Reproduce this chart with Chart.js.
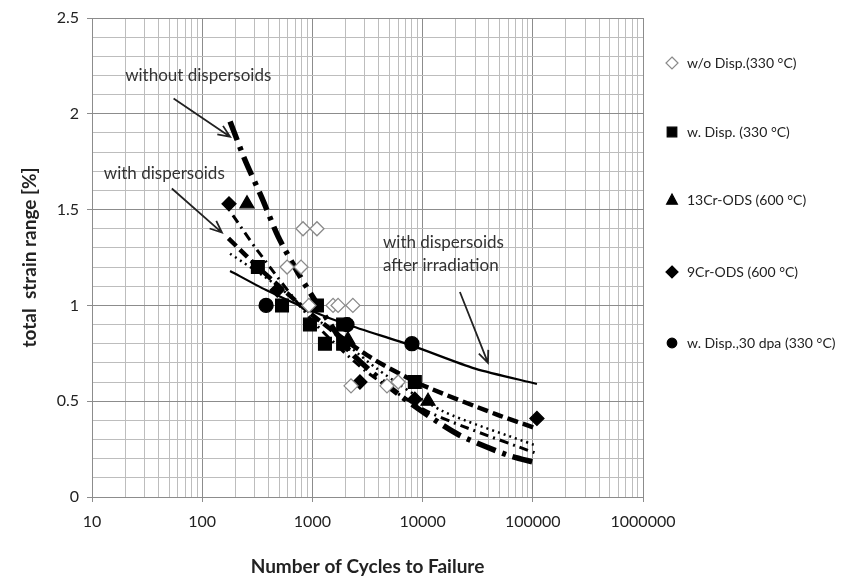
<!DOCTYPE html>
<html>
<head>
<meta charset="utf-8">
<script src="https://cdn.jsdelivr.net/npm/chart.js@4.4.1/dist/chart.umd.min.js"></script>
<style>
  html, body { margin: 0; padding: 0; background: #fff; }
  #wrap { width: 854px; height: 582px; }
</style>
</head>
<body>
<div id="wrap"><canvas id="fatigue" width="854" height="582"></canvas></div>
<script>
'use strict';

// measured points: cycles to failure / total strain range [%]
const woDispN = [822, 1100, 589, 788, 930, 1540, 1710, 2330, 2240, 4750, 6000];
const woDispS = [1.4, 1.4, 1.2, 1.2, 1.0, 1.0, 1.0, 1.0, 0.58, 0.58, 0.6];
const wDispN = [320, 530, 1100, 950, 1900, 1300, 1900, 8500];
const wDispS = [1.2, 1.0, 1.0, 0.9, 0.9, 0.8, 0.8, 0.6];
const cr13N = [255, 2100, 11200];
const cr13S = [1.53, 0.82, 0.5];
const cr9N = [175, 480, 2700, 8500, 109000];
const cr9S = [1.53, 1.08, 0.6, 0.51, 0.41];
const dpaN = [380, 2060, 8000];
const dpaS = [1.0, 0.9, 0.8];

// fit curves
const fitWoN = [179, 244, 349, 488, 740, 1100, 2190, 6240, 20500, 58300, 105000];
const fitWoS = [1.96, 1.76, 1.56, 1.36, 1.17, 1.01, 0.76, 0.53, 0.33, 0.22, 0.18];
const fitDashN = [173, 250, 320, 1000, 3130, 9460, 47300, 105000];
const fitDashS = [1.35, 1.26, 1.2, 0.95, 0.74, 0.59, 0.43, 0.36];
const fitDashDotN = [190, 314, 1000, 3000, 10000, 23000, 105000];
const fitDashDotS = [1.47, 1.29, 0.92, 0.66, 0.46, 0.37, 0.23];
const fitDotN = [179, 460, 1000, 3850, 15000, 105000];
const fitDotS = [1.27, 1.11, 0.95, 0.67, 0.45, 0.27];
const fitDpaN = [179, 380, 1000, 2060, 8000, 30000, 109000];
const fitDpaS = [1.18, 1.08, 0.97, 0.9, 0.79, 0.67, 0.59];

const seriesLabels = ['w/o Disp.(330 °C)', 'w. Disp. (330 °C)', '13Cr-ODS (600 °C)', '9Cr-ODS (600 °C)', 'w. Disp.,30 dpa (330 °C)'];
const xLabelValues = [10, 100, 1000, 10000, 100000, 1000000];
const yLabelValues = [0, 0.5, 1, 1.5, 2, 2.5];

// text notes with arrows (data coordinates)
const noteLines = [['without dispersoids'], ['with dispersoids'], ['with dispersoids', 'after irradiation']];
const noteAt = [[20, 2.2], [12.8, 1.69], [4370, 1.33]];
const arrowFrom = [[55, 2.08], [53, 1.61], [21800, 1.07]];
const arrowTo = [[179, 1.88], [151, 1.38], [39200, 0.70]];

const FONT = 'Lato, "Open Sans", sans-serif';

function pts(xs, ys) { return xs.map((x, i) => ({ x, y: ys[i] })); }

// grid values 1..9 x each decade
const xGrid = [];
for (let d = 10; d < 1000000; d *= 10) for (let k = 1; k < 10; k++) xGrid.push(k * d);
xGrid.push(1000000);

function isLabelX(v) { return xLabelValues.indexOf(v) >= 0; }
function isLabelY(v) { return yLabelValues.some(t => Math.abs(t - v) < 1e-6); }

function lineSet(xs, ys, width, dash) {
  return {
    data: pts(xs, ys), showLine: true, pointRadius: 0, borderColor: '#000',
    borderWidth: width, borderDash: dash, fill: false, order: 2, tension: 0.25,
  };
}

function pointSet(label, xs, ys, style, radius, fill, stroke) {
  return {
    label, data: pts(xs, ys), showLine: false, pointStyle: style, pointRadius: radius,
    backgroundColor: fill, borderColor: stroke, pointBorderWidth: 1.3, order: 1,
  };
}

const pointSets = [
  pointSet(seriesLabels[0], woDispN, woDispS, 'rectRot', 7, '#fff', '#8a8a8a'),
  pointSet(seriesLabels[1], wDispN, wDispS, 'rect', 9, '#000', '#000'),
  pointSet(seriesLabels[2], cr13N, cr13S, 'triangle', 8, '#000', '#000'),
  pointSet(seriesLabels[3], cr9N, cr9S, 'rectRot', 7, '#000', '#000'),
  pointSet(seriesLabels[4], dpaN, dpaS, 'circle', 7, '#000', '#000'),
];

function drawMarker(ctx, style, x, y, r, fill, stroke) {
  ctx.save();
  ctx.fillStyle = fill; ctx.strokeStyle = stroke; ctx.lineWidth = 1.2;
  ctx.beginPath();
  if (style === 'rectRot') {
    ctx.moveTo(x, y - r); ctx.lineTo(x + r, y); ctx.lineTo(x, y + r); ctx.lineTo(x - r, y); ctx.closePath();
  } else if (style === 'rect') {
    ctx.rect(x - r * 0.8, y - r * 0.8, r * 1.6, r * 1.6);
  } else if (style === 'triangle') {
    ctx.moveTo(x, y - r); ctx.lineTo(x + r * 0.9, y + r * 0.7); ctx.lineTo(x - r * 0.9, y + r * 0.7); ctx.closePath();
  } else {
    ctx.arc(x, y, r * 0.8, 0, Math.PI * 2);
  }
  ctx.fill(); ctx.stroke();
  ctx.restore();
}

const sideLegend = {
  id: 'sideLegend',
  afterDraw(chart) {
    const ctx = chart.ctx;
    const x0 = chart.chartArea.right + 29;
    const rows = [63, 132, 200, 272, 343];
    ctx.save();
    ctx.font = '14px ' + FONT;
    ctx.fillStyle = '#222';
    ctx.textBaseline = 'middle';
    pointSets.forEach((ds, i) => {
      drawMarker(ctx, ds.pointStyle, x0, rows[i], 6, ds.backgroundColor, ds.borderColor);
      ctx.fillText(ds.label, x0 + 15, rows[i]);
    });
    ctx.restore();
  },
};

const notes = {
  id: 'notes',
  afterDraw(chart) {
    const ctx = chart.ctx;
    const xs = chart.scales.x, ys = chart.scales.y;
    ctx.save();
    ctx.font = '17px ' + FONT;
    ctx.fillStyle = '#333';
    ctx.strokeStyle = '#222';
    ctx.lineWidth = 1.8;
    ctx.textBaseline = 'middle';
    noteLines.forEach((lines, i) => {
      const tx = xs.getPixelForValue(noteAt[i][0]);
      const ty = ys.getPixelForValue(noteAt[i][1]);
      lines.forEach((t, j) => ctx.fillText(t, tx, ty + j * 23));
      const ax = xs.getPixelForValue(arrowFrom[i][0]), ay = ys.getPixelForValue(arrowFrom[i][1]);
      const bx = xs.getPixelForValue(arrowTo[i][0]), by = ys.getPixelForValue(arrowTo[i][1]);
      const ang = Math.atan2(by - ay, bx - ax);
      ctx.beginPath();
      ctx.moveTo(ax, ay); ctx.lineTo(bx, by);
      ctx.moveTo(bx - 13 * Math.cos(ang - 0.4), by - 13 * Math.sin(ang - 0.4));
      ctx.lineTo(bx, by);
      ctx.lineTo(bx - 13 * Math.cos(ang + 0.4), by - 13 * Math.sin(ang + 0.4));
      ctx.stroke();
    });
    ctx.restore();
  },
};

new Chart(document.getElementById('fatigue'), {
  type: 'scatter',
  data: {
    datasets: [
      ...pointSets,
      lineSet(fitWoN, fitWoS, 5.5, [20, 7, 4, 7]),
      lineSet(fitDashN, fitDashS, 4.5, [11, 5]),
      lineSet(fitDashDotN, fitDashDotS, 3, [9, 5, 2, 5]),
      lineSet(fitDotN, fitDotS, 2.5, [2, 4]),
      lineSet(fitDpaN, fitDpaS, 2.2, []),
    ],
  },
  options: {
    responsive: false,
    animation: false,
    layout: { padding: { top: 18, right: 211, bottom: 0, left: 0 } },
    plugins: { legend: { display: false }, tooltip: { enabled: false } },
    scales: {
      x: {
        type: 'logarithmic', min: 10, max: 1000000,
        afterBuildTicks: s => { s.ticks = xGrid.map(v => ({ value: v })); },
        afterFit: s => { s.height = 85; },
        ticks: {
          autoSkip: false, maxRotation: 0, padding: 10, color: '#222',
          font: { family: FONT, size: 16 },
          callback: v => (isLabelX(v) ? String(v) : ''),
        },
        grid: {
          color: c => (c.tick && isLabelX(c.tick.value) ? '#8c8c8c' : '#bdbdbd'),
          tickColor: c => (c.tick && isLabelX(c.tick.value) ? '#8c8c8c' : 'rgba(0,0,0,0)'),
          tickLength: 5,
        },
        border: { color: '#8c8c8c' },
        title: {
          display: true, text: 'Number of Cycles to Failure', color: '#222',
          font: { family: FONT, size: 19, weight: 'bold' }, padding: { top: 0, bottom: 4 },
        },
      },
      y: {
        min: 0, max: 2.5,
        afterFit: s => { s.width = 92; },
        ticks: {
          stepSize: 0.1, autoSkip: false, padding: 8, color: '#222',
          font: { family: FONT, size: 16 },
          callback: v => (isLabelY(v) ? String(Math.round(v * 10) / 10) : ''),
        },
        grid: {
          color: c => (c.tick && isLabelY(c.tick.value) ? '#8c8c8c' : '#bdbdbd'),
          tickColor: c => (c.tick && isLabelY(c.tick.value) ? '#8c8c8c' : 'rgba(0,0,0,0)'),
          tickLength: 5,
        },
        border: { color: '#8c8c8c' },
        title: {
          display: true, text: 'total  strain range [%]', color: '#222',
          font: { family: FONT, size: 19, weight: 'bold' }, padding: { top: 18, bottom: 0 },
        },
      },
    },
  },
  plugins: [sideLegend, notes],
});
</script>
</body>
</html>
